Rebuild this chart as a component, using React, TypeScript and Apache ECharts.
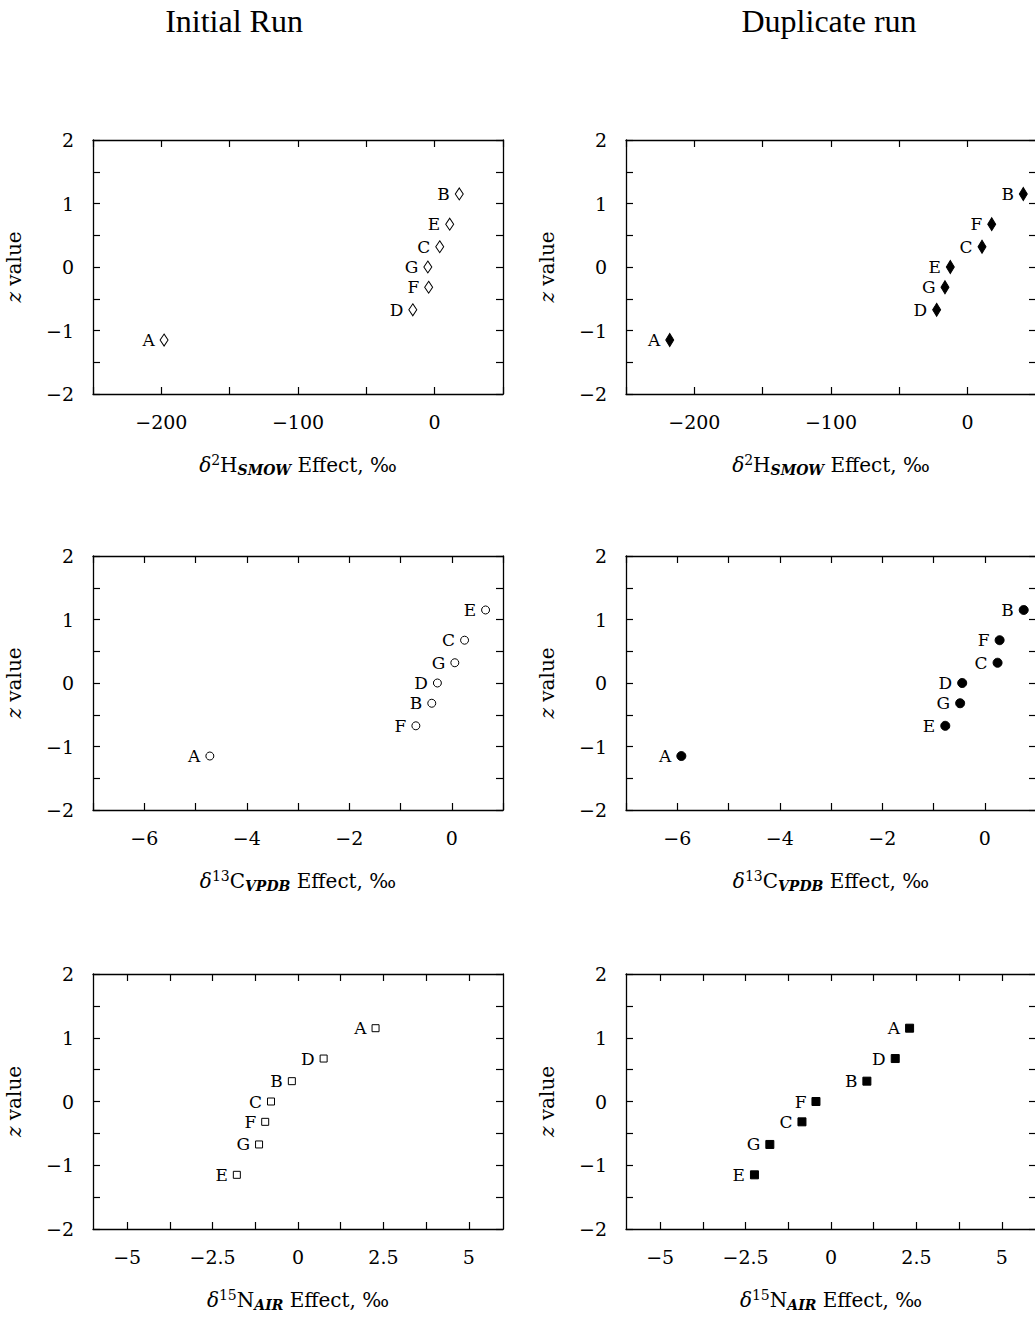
import React, { useEffect, useRef } from 'react';
import * as echarts from 'echarts';

// ---- data ----
const zValues = [-1.15, -0.674, -0.319, 0, 0.319, 0.674, 1.15];

const h2InitialLetters = ['A', 'D', 'F', 'G', 'C', 'E', 'B'];
const h2InitialX = [-198, -16, -4.4, -5, 3.7, 11, 18];
const h2DuplicateLetters = ['A', 'D', 'G', 'E', 'C', 'F', 'B'];
const h2DuplicateX = [-218, -22.7, -16.6, -12.7, 10.5, 17.6, 40.7];

const c13InitialLetters = ['A', 'F', 'B', 'D', 'G', 'C', 'E'];
const c13InitialX = [-4.72, -0.7, -0.39, -0.28, 0.06, 0.25, 0.66];
const c13DuplicateLetters = ['A', 'E', 'G', 'D', 'C', 'F', 'B'];
const c13DuplicateX = [-5.92, -0.77, -0.48, -0.44, 0.25, 0.29, 0.76];

const n15InitialLetters = ['E', 'G', 'F', 'C', 'B', 'D', 'A'];
const n15InitialX = [-1.79, -1.14, -0.96, -0.79, -0.18, 0.75, 2.27];
const n15DuplicateLetters = ['E', 'G', 'C', 'F', 'B', 'D', 'A'];
const n15DuplicateX = [-2.24, -1.79, -0.85, -0.44, 1.05, 1.88, 2.3];

const h2Ticks = [-250, -200, -150, -100, -50, 0, 50];
const h2Labels = [-200, -100, 0];
const c13Ticks = [-7, -6, -5, -4, -3, -2, -1, 0, 1];
const c13Labels = [-6, -4, -2, 0];
const n15Ticks = [-5, -3.75, -2.5, -1.25, 0, 1.25, 2.5, 3.75, 5];
const n15Labels = [-5, -2.5, 0, 2.5, 5];
const zTicks = [-2, -1.5, -1, -0.5, 0, 0.5, 1, 1.5, 2];
const zLabels = [-2, -1, 0, 1, 2];

const titles = ['Initial Run', 'Duplicate run'];

const FONT = '"DejaVu Serif", serif';
const FS = 19;
const NFS = 20;

const fmt = (v: number) => (v < 0 ? '\u2212' : '') + String(Math.abs(v));

const richName = {
  d: { fontStyle: 'italic', fontFamily: FONT, fontSize: NFS, lineHeight: 24, color: '#000' },
  t: { fontFamily: FONT, fontSize: NFS, lineHeight: 24, color: '#000' },
  sup: { fontFamily: FONT, fontSize: 14, lineHeight: 12, verticalAlign: 'top', color: '#000' },
  sub: { fontFamily: FONT, fontSize: 14, lineHeight: 11, verticalAlign: 'bottom', fontStyle: 'italic', fontWeight: 'bold', color: '#000' },
  z: { fontStyle: 'italic', fontFamily: FONT, fontSize: NFS, lineHeight: 22, color: '#000' },
};

const panels = [
  { col: 0, row: 0, letters: h2InitialLetters, xs: h2InitialX, min: -250, max: 50, ticks: h2Ticks, labels: h2Labels, name: '{d|δ}{sup|2}{t|H}{sub|SMOW}{t| Effect, ‰}', symbol: 'diamond', size: [8, 12], filled: false },
  { col: 1, row: 0, letters: h2DuplicateLetters, xs: h2DuplicateX, min: -250, max: 50, ticks: h2Ticks, labels: h2Labels, name: '{d|δ}{sup|2}{t|H}{sub|SMOW}{t| Effect, ‰}', symbol: 'diamond', size: [8, 13], filled: true },
  { col: 0, row: 1, letters: c13InitialLetters, xs: c13InitialX, min: -7, max: 1, ticks: c13Ticks, labels: c13Labels, name: '{d|δ}{sup|13}{t|C}{sub|VPDB}{t| Effect, ‰}', symbol: 'circle', size: 8, filled: false },
  { col: 1, row: 1, letters: c13DuplicateLetters, xs: c13DuplicateX, min: -7, max: 1, ticks: c13Ticks, labels: c13Labels, name: '{d|δ}{sup|13}{t|C}{sub|VPDB}{t| Effect, ‰}', symbol: 'circle', size: 9, filled: true },
  { col: 0, row: 2, letters: n15InitialLetters, xs: n15InitialX, min: -6, max: 6, ticks: n15Ticks, labels: n15Labels, name: '{d|δ}{sup|15}{t|N}{sub|AIR}{t| Effect, ‰}', symbol: 'rect', size: 7, filled: false },
  { col: 1, row: 2, letters: n15DuplicateLetters, xs: n15DuplicateX, min: -6, max: 6, ticks: n15Ticks, labels: n15Labels, name: '{d|δ}{sup|15}{t|N}{sub|AIR}{t| Effect, ‰}', symbol: 'rect', size: 8, filled: true },
];

const colLeft = [93, 626];
const rowTop = [140, 556, 974];
const rowHeight = [254, 254, 255];
const gridWidth = 410;

function buildOption() {
  const grid: any[] = [];
  const xAxis: any[] = [];
  const yAxis: any[] = [];
  const series: any[] = [];
  const line = { show: true, onZero: false, lineStyle: { color: '#000', width: 1.3 } };
  const tick = (vals: number[]) => ({ show: true, inside: true, length: 7, customValues: vals, lineStyle: { color: '#000', width: 1.2 } });

  panels.forEach((p, i) => {
    grid.push({ left: colLeft[p.col], top: rowTop[p.row], width: gridWidth, height: rowHeight[p.row], outerBoundsMode: 'none', containLabel: false });
    xAxis.push({
      type: 'value', gridIndex: i, position: 'bottom', min: p.min, max: p.max,
      axisLine: line, axisTick: tick(p.ticks), splitLine: { show: false },
      axisLabel: { show: true, customValues: p.labels, margin: 18, formatter: (v: number) => fmt(v), fontFamily: FONT, fontSize: FS, color: '#000' },
      name: p.name, nameLocation: 'middle', nameGap: 59,
      nameTextStyle: { fontFamily: FONT, fontSize: NFS, color: '#000', rich: richName },
    });
    xAxis.push({
      type: 'value', gridIndex: i, position: 'top', min: p.min, max: p.max,
      axisLine: line, axisTick: tick(p.ticks), splitLine: { show: false }, axisLabel: { show: false },
    });
    yAxis.push({
      type: 'value', gridIndex: i, position: 'left', min: -2, max: 2,
      axisLine: line, axisTick: tick(zTicks), splitLine: { show: false },
      axisLabel: { show: true, customValues: zLabels, margin: 19, formatter: (v: number) => fmt(v), fontFamily: FONT, fontSize: FS, color: '#000' },
      name: '{z|z}{t| value}', nameLocation: 'middle', nameGap: 67, nameRotate: 90,
      nameTextStyle: { fontFamily: FONT, fontSize: NFS, color: '#000', rich: richName },
    });
    yAxis.push({
      type: 'value', gridIndex: i, position: 'right', min: -2, max: 2,
      axisLine: line, axisTick: tick(zTicks), splitLine: { show: false }, axisLabel: { show: false },
    });
    series.push({
      type: 'scatter', xAxisIndex: i * 2, yAxisIndex: i * 2,
      symbol: p.symbol, symbolSize: p.size,
      itemStyle: p.filled ? { color: '#000', borderColor: '#000', borderWidth: 1, opacity: 1 } : { color: '#fff', borderColor: '#000', borderWidth: 1, opacity: 1 },
      label: { show: true, position: 'left', distance: 5, formatter: (d: any) => d.name, fontFamily: FONT, fontSize: 17, lineHeight: 16, color: '#000' },
      data: p.letters.map((l, k) => ({ name: l, value: [p.xs[k], zValues[k]] })),
      clip: false,
    });
  });

  const graphic = [
    { type: 'text', x: 234, y: 21, style: { text: titles[0], font: '32px "Liberation Serif"', fill: '#000', textAlign: 'center', textVerticalAlign: 'middle' } },
    { type: 'text', x: 829, y: 21, style: { text: titles[1], font: '32px "Liberation Serif"', fill: '#000', textAlign: 'center', textVerticalAlign: 'middle' } },
  ];

  return {
    animation: false,
    backgroundColor: '#fff',
    textStyle: { fontFamily: FONT },
    grid, xAxis, yAxis, series, graphic,
  };
}

export default function App() {
  const ref = useRef<HTMLDivElement>(null);
  useEffect(() => {
    if (!ref.current) return;
    const chart = echarts.init(ref.current, null, { renderer: 'svg' });
    chart.setOption(buildOption() as any);
    return () => chart.dispose();
  }, []);
  return <div ref={ref} style={{ position: 'absolute', left: 0, top: 0, width: 1035, height: 1320 }} />;
}
